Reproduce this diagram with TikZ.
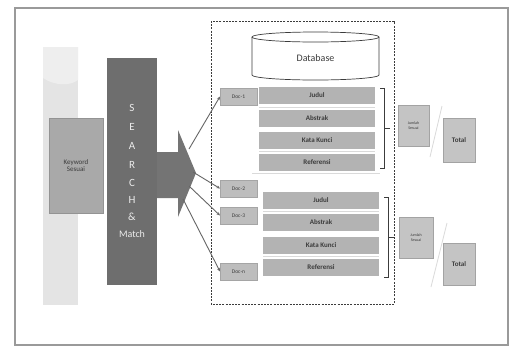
\documentclass[tikz,border=0pt]{standalone}
\usepackage{fontspec}
\setmainfont{Carlito}
\usetikzlibrary{arrows.meta}
\definecolor{framec}{HTML}{9A9A9A}
\definecolor{stripc}{HTML}{E4E4E4}
\definecolor{stripl}{HTML}{EEEEEE}
\definecolor{kwc}{HTML}{A9A9A9}
\definecolor{kwb}{HTML}{939393}
\definecolor{darkbar}{HTML}{6E6E6E}
\definecolor{arrowc}{HTML}{747474}
\definecolor{fieldc}{HTML}{B3B3B3}
\definecolor{docc}{HTML}{BDBDBD}
\definecolor{docb}{HTML}{A5A5A5}
\definecolor{boxc}{HTML}{C4C4C4}
\definecolor{boxb}{HTML}{A3A3A3}
\definecolor{txtd}{HTML}{3C3C3C}
\definecolor{linec}{HTML}{666666}
\definecolor{faint}{HTML}{DADADA}
\begin{document}
\begin{tikzpicture}[x=1pt,y=-1pt,
  box/.style={anchor=north west, inner sep=0pt, outer sep=0pt},
  field/.style={box, fill=fieldc, minimum width=116pt, minimum height=17pt,
     font=\fontsize{7}{8}\selectfont\bfseries, text=txtd},
  docbox/.style={box, fill=docc, draw=docb, line width=0.6pt, minimum width=37pt, minimum height=17pt,
     font=\fontsize{5.5}{6}\selectfont, text=txtd},
  sumbox/.style={box, fill=boxc, draw=boxb, line width=0.6pt, align=center,
     font=\fontsize{4}{4.5}\selectfont, text=txtd},
  totbox/.style={box, fill=boxc, draw=boxb, line width=0.6pt, minimum width=32pt, minimum height=44pt,
     font=\fontsize{7}{8}\selectfont\bfseries, text=txtd},
  letter/.style={text=white!85!gray, font=\fontsize{11}{11}\selectfont},
  conn/.style={draw=linec, line width=0.9pt, -{Stealth[length=3.5pt,width=3pt]}},
  brace/.style={draw=txtd, line width=0.8pt},
  faintline/.style={draw=faint, line width=0.8pt}
]
\useasboundingbox (0,0) rectangle (509,349);
\fill[white] (0,0) rectangle (509,349);
% outer frame
\draw[framec, line width=1.6pt] (15,8) rectangle (508,345);
% light strip
\fill[stripc] (43,47) rectangle (78,305);
\fill[stripl] (43,47) -- (78,47) -- (78,80) .. controls (70,86) and (55,86) .. (43,78) -- cycle;
% keyword box
\node[box, fill=kwc, draw=kwb, line width=0.6pt, minimum width=54pt, minimum height=95pt,
  align=center, font=\fontsize{7}{7.5}\selectfont, text=txtd] (kw) at (49,118) {Keyword\\Sesuai};
% SEARCH & Match bar
\node[box, fill=darkbar, minimum width=50pt, minimum height=227pt] (sm) at (107,58) {};
\node[letter] (l1) at (132,108) {S};
\node[letter] (l2) at (132,127) {E};
\node[letter] (l3) at (132,146) {A};
\node[letter] (l4) at (132,165) {R};
\node[letter] (l5) at (132,183) {C};
\node[letter] (l6) at (132,200) {H};
\node[letter] (l7) at (132,217) {\&};
\node[letter, font=\fontsize{10}{10}\selectfont] (l8) at (132,234) {Match};
% big arrow
\fill[arrowc] (157,152) -- (178,152) -- (178,130) -- (196,173) -- (178,217) -- (178,198) -- (157,198) -- cycle;
% dashed container
\draw[txtd, line width=0.8pt, dash pattern=on 2pt off 1.2pt] (211,21) rectangle (394,304);
% database cylinder
\draw[txtd, line width=0.7pt, fill=white] (252,37) -- (252,75) arc (180:0:63.5 and 5) -- (379,37);
\draw[txtd, line width=0.7pt, fill=white] (315.5,37) ellipse (63.5 and 5);
\node[font=\fontsize{10}{11}\selectfont, text=txtd] (db) at (315.5,58) {Database};
% fields top group
\node[field] (j1) at (259,87) {Judul};
\node[field] (a1) at (259,110) {Abstrak};
\node[field] (k1) at (259,132) {Kata Kunci};
\node[field] (r1) at (259,154) {Referensi};
% fields bottom group
\node[field] (j2) at (263,192) {Judul};
\node[field] (a2) at (263,214) {Abstrak};
\node[field] (k2) at (263,237) {Kata Kunci};
\node[field] (r2) at (263,259) {Referensi};
% faint separators
\draw[faintline] (259,107) -- (375,107);
\draw[faintline] (259,151) -- (375,151);
\draw[faintline] (252,173) -- (380,173);
\draw[faintline] (263,211) -- (379,211);
\draw[faintline] (263,256) -- (379,256);
% doc boxes
\node[docbox] (d1) at (220,88) {Doc-1};
\node[docbox] (d2) at (220,180) {Doc-2};
\node[docbox] (d3) at (220,207) {Doc-3};
\node[docbox] (dn) at (220,263) {Doc-n};
% connectors from arrow head
\coordinate (t1) at (189,149);
\coordinate (t2) at (193,172);
\coordinate (t3) at (189,186);
\coordinate (t4) at (183,199);
\draw[conn] (t1) -- (d1.west);
\draw[conn] (t2) -- (d2.west);
\draw[conn] (t3) -- (d3.west);
\draw[conn] (t4) -- (dn.west);
% braces
\draw[brace] (380,88) -- (384,88) -- (384,168) -- (380,168);
\draw[brace] (384,128) -- (390,128);
\draw[brace] (384,197) -- (388,197) -- (388,277) -- (384,277);
\draw[brace] (388,237) -- (394,237);
% right boxes
\node[sumbox, minimum width=31pt, minimum height=41pt] (s1) at (398,105) {Jumlah\\Sesuai};
\node[sumbox, minimum width=34pt, minimum height=41pt] (s2) at (399,217) {Jumlah\\Sesuai};
\node[totbox] (tt1) at (443,118) {Total};
\node[totbox, minimum height=42pt] (tt2) at (443,243) {Total};
% faint slashes
\draw[faintline] (442,106) -- (430,157);
\draw[faintline] (447,223) -- (431,287);
\end{tikzpicture}
\end{document}
